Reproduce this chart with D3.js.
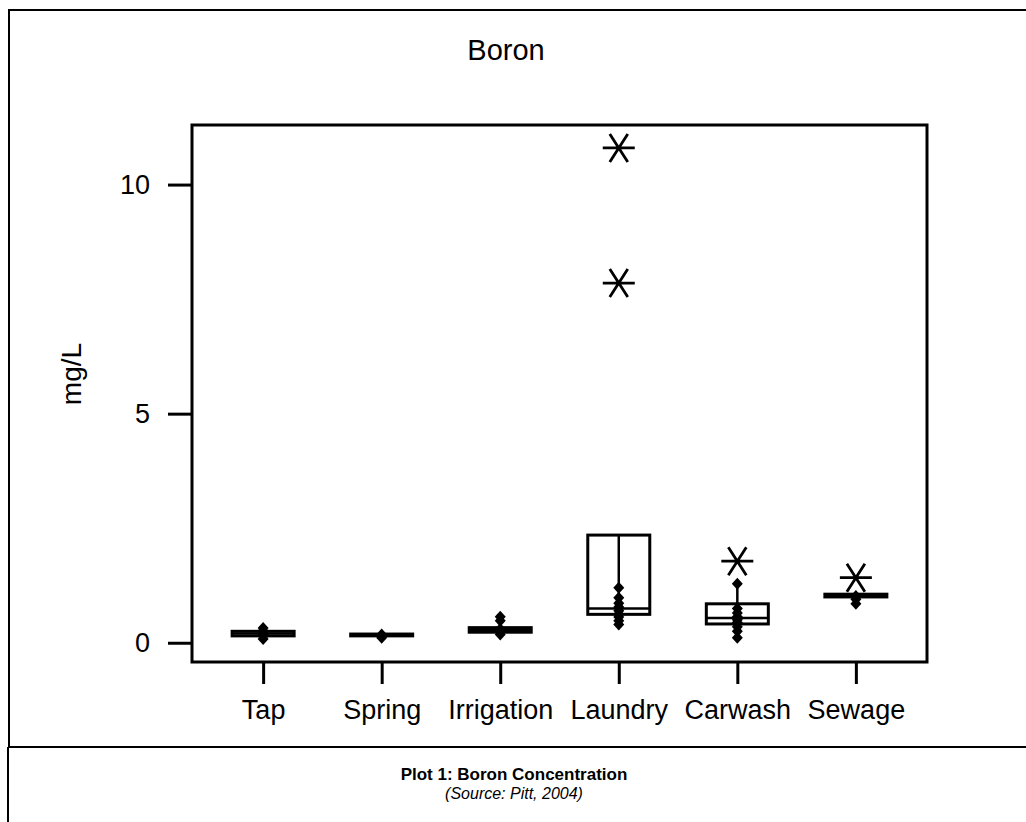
<!DOCTYPE html>
<html>
<head>
<meta charset="utf-8">
<script src="https://cdnjs.cloudflare.com/ajax/libs/d3/7.8.5/d3.min.js"></script>
<style>
    body { margin: 0; background: #fff; }
    text { font-family: Arial, "Liberation Sans", sans-serif; fill: #000; }
</style>
</head>
<body>
<svg id="chart" width="1026" height="822"></svg>
<script>

// Boron concentration by water source (mg/L)
let categories = ['Tap', 'Spring', 'Irrigation', 'Laundry', 'Carwash', 'Sewage']
let q1 = [0.15, 0.15, 0.23, 0.62, 0.41, 1.00]
let medians = [0.20, 0.17, 0.28, 0.75, 0.54, 1.03]
let q3 = [0.25, 0.19, 0.33, 2.35, 0.85, 1.06]
let whiskerLow = [0.08, 0.11, 0.18, 0.40, 0.11, 0.85]
let whiskerHigh = [0.32, 0.18, 0.57, 2.35, 1.29, 1.06]
let points = [
    [0.08, 0.14, 0.18, 0.21, 0.26, 0.32],
    [0.11, 0.15, 0.18],
    [0.18, 0.25, 0.30, 0.48, 0.57],
    [0.40, 0.48, 0.56, 0.63, 0.70, 0.78, 0.86, 0.98, 1.20],
    [0.11, 0.25, 0.35, 0.44, 0.50, 0.57, 0.65, 0.75, 1.29],
    [0.85, 0.95, 1.02]
]
let outliers = [[], [], [], [7.85, 10.8], [1.78], [1.42]]
let yTicks = [0, 5, 10]

let svg = d3.select('#chart')

let plot = { left: 192, right: 927, top: 125, bottom: 662 }

let x = d3.scalePoint()
    .domain(categories)
    .range([plot.left, plot.right])
    .padding(0.6)

let y = d3.scaleLinear()
    .domain([-0.42, 11.3])
    .range([plot.bottom, plot.top])

let halfWidth = 31

// Outer frame and caption box
svg.append('rect')
    .attr('x', 9).attr('y', 10)
    .attr('width', 1040).attr('height', 737)
    .attr('fill', 'none').attr('stroke', '#000').attr('stroke-width', 2)

svg.append('path')
    .attr('d', 'M8,747 H1030 M8,747 V830')
    .attr('fill', 'none').attr('stroke', '#000').attr('stroke-width', 2)

// Title
svg.append('text')
    .attr('x', 506).attr('y', 60)
    .attr('text-anchor', 'middle')
    .style('font-size', '29px')
    .text('Boron')

// Y axis
let yAxis = svg.append('g')
    .attr('transform', 'translate(' + plot.left + ',0)')
    .call(d3.axisLeft(y).tickValues(yTicks).tickSize(24).tickPadding(18).tickFormat(d3.format('d')))
yAxis.select('.domain').remove()
yAxis.selectAll('line').attr('stroke-width', 3)
yAxis.selectAll('text').style('font-size', '27px').attr('font-family', null)

// X axis
let xAxis = svg.append('g')
    .attr('transform', 'translate(0,' + plot.bottom + ')')
    .call(d3.axisBottom(x).tickSize(22).tickPadding(16))
xAxis.select('.domain').remove()
xAxis.selectAll('line').attr('stroke-width', 3)
xAxis.selectAll('text').style('font-size', '27px').attr('font-family', null)

// Y label
svg.append('text')
    .attr('transform', 'translate(81,374) rotate(-90)')
    .attr('text-anchor', 'middle')
    .style('font-size', '28px')
    .text('mg/L')

// Plot frame
svg.append('rect')
    .attr('x', plot.left).attr('y', plot.top)
    .attr('width', plot.right - plot.left).attr('height', plot.bottom - plot.top)
    .attr('fill', 'none').attr('stroke', '#000').attr('stroke-width', 3)

// Boxes
let box = svg.selectAll('.box')
    .data(categories)
    .enter().append('g')
    .attr('class', 'box')

box.append('line')
    .attr('x1', function (d) { return x(d) })
    .attr('x2', function (d) { return x(d) })
    .attr('y1', function (d, i) { return y(whiskerLow[i]) })
    .attr('y2', function (d, i) { return y(whiskerHigh[i]) })
    .attr('stroke', '#000').attr('stroke-width', 2.5)

box.append('rect')
    .attr('x', function (d) { return x(d) - halfWidth })
    .attr('y', function (d, i) { return y(q3[i]) })
    .attr('width', halfWidth * 2)
    .attr('height', function (d, i) { return y(q1[i]) - y(q3[i]) })
    .attr('fill', 'none').attr('stroke', '#000').attr('stroke-width', 3)

box.append('line')
    .attr('x1', function (d) { return x(d) - halfWidth })
    .attr('x2', function (d) { return x(d) + halfWidth })
    .attr('y1', function (d, i) { return y(medians[i]) })
    .attr('y2', function (d, i) { return y(medians[i]) })
    .attr('stroke', '#000').attr('stroke-width', 2.5)

// Individual values (diamonds)
let diamond = 'M0,-6 L5.5,0 L0,6 L-5.5,0 Z'
box.selectAll('.pt')
    .data(function (d, i) { return points[i].map(function (v) { return { cat: d, v: v } }) })
    .enter().append('path')
    .attr('class', 'pt')
    .attr('d', diamond)
    .attr('transform', function (p) { return 'translate(' + x(p.cat) + ',' + y(p.v) + ')' })
    .attr('fill', '#000')

// Outliers (asterisks)
let star = 'M-16,0 H16 M-9,-14 L9,14 M9,-14 L-9,14'
box.selectAll('.out')
    .data(function (d, i) { return outliers[i].map(function (v) { return { cat: d, v: v } }) })
    .enter().append('path')
    .attr('class', 'out')
    .attr('d', star)
    .attr('transform', function (p) { return 'translate(' + x(p.cat) + ',' + y(p.v) + ')' })
    .attr('fill', 'none').attr('stroke', '#000').attr('stroke-width', 2.8)

// Caption
svg.append('text')
    .attr('x', 514).attr('y', 780)
    .attr('text-anchor', 'middle')
    .style('font-size', '17px').style('font-weight', 'bold')
    .text('Plot 1: Boron Concentration')

svg.append('text')
    .attr('x', 514).attr('y', 799)
    .attr('text-anchor', 'middle')
    .style('font-size', '16px').style('font-style', 'italic')
    .text('(Source: Pitt, 2004)')

</script>
</body>
</html>
